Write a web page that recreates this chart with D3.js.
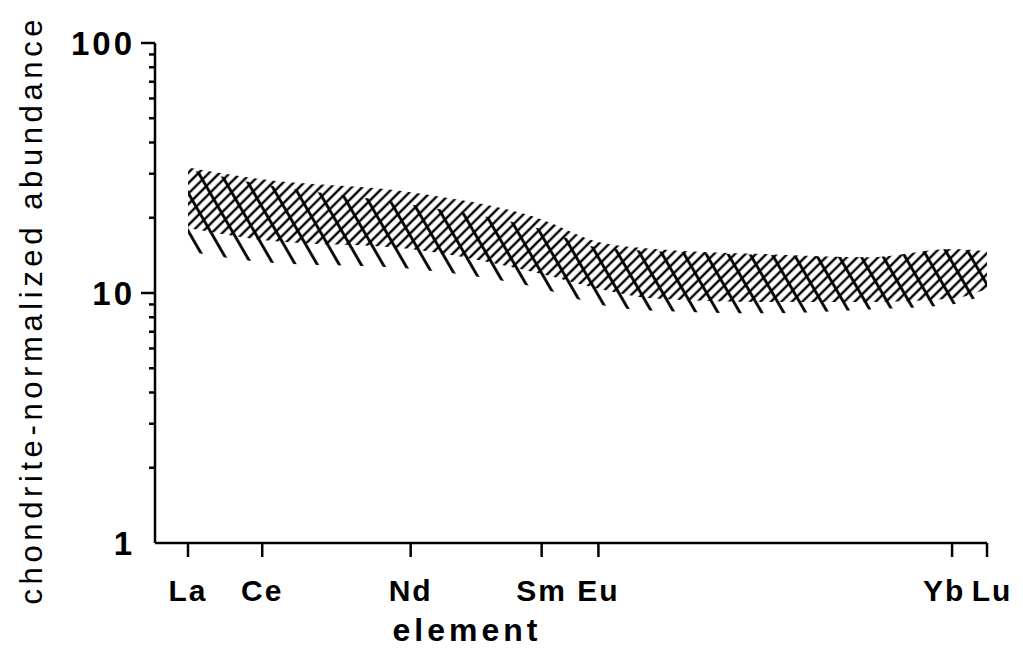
<!DOCTYPE html>
<html>
<head>
<meta charset="utf-8">
<script src="https://cdn.jsdelivr.net/npm/d3@7"></script>
<style>
  body { margin: 0; background: #fff; }
  svg text { font-family: "Liberation Sans", Arial, sans-serif; fill: #000; }
</style>
</head>
<body>
<div id="chart"></div>
<script>
// elements placed by ionic radius (Angstrom)
var elements    = ["La", "Ce", "Nd", "Sm", "Eu", "Gd", "Dy", "Er", "Yb", "Lu"];
var ionicRadius = [1.160, 1.143, 1.109, 1.079, 1.066, 1.053, 1.027, 1.004, 0.985, 0.977];
var tickElements = ["La", "Ce", "Nd", "Sm", "Eu", "Yb", "Lu"];

// band with "/" hatching
var bandA_hi = [31.8, 28.5, 25.3, 19.7, 16.0, 15.0, 14.3, 13.9, 15.0, 14.7];
var bandA_lo = [18.2, 16.3, 15.0, 11.9, 10.4, 9.5, 9.2, 9.2, 9.5, 10.4];
// band with "\" hatching
var bandB_hi = [31.2, 27.2, 22.6, 18.0, 15.2, 14.7, 14.2, 13.9, 15.0, 14.3];
var bandB_lo = [14.7, 13.3, 12.5, 10.4, 9.0, 8.5, 8.3, 8.6, 9.0, 9.9];

var yMajor = [1, 10, 100];
var yMinor = [2, 3, 4, 5, 6, 7, 8, 9, 20, 30, 40, 50, 60, 70, 80, 90];

var largeur = 1023, hauteur = 656;

var svg = d3.select("#chart").append("svg")
    .attr("width", largeur)
    .attr("height", hauteur);

var x = d3.scaleLinear().domain([1.160, 0.977]).range([188, 987]);
var y = d3.scaleLog().domain([1, 100]).range([543, 43]);

// hatch patterns
var defs = svg.append("defs");
function hatch(id, d, angle, sw) {
  defs.append("pattern")
      .attr("id", id)
      .attr("patternUnits", "userSpaceOnUse")
      .attr("width", d).attr("height", d)
      .attr("patternTransform", "rotate(" + angle + ")")
    .append("line")
      .attr("x1", d / 2).attr("y1", 0)
      .attr("x2", d / 2).attr("y2", d)
      .attr("stroke", "#000")
      .attr("stroke-width", sw);
}
hatch("fwd", 7.4, 45, 2.4);
hatch("back", 19, -30, 2.8);

function band(hi, lo) {
  var pts = elements.map(function(e, i) { return {r: ionicRadius[i], hi: hi[i], lo: lo[i]}; });
  return d3.area()
      .x(function(d) { return x(d.r); })
      .y0(function(d) { return y(d.lo); })
      .y1(function(d) { return y(d.hi); })
      .curve(d3.curveMonotoneX)(pts);
}

svg.append("path").attr("d", band(bandA_hi, bandA_lo)).attr("fill", "url(#fwd)");
svg.append("path").attr("d", band(bandB_hi, bandB_lo)).attr("fill", "url(#back)");

// y axis
var axisX = 155;
var g = svg.append("g").attr("stroke", "#000").attr("stroke-width", 2.5);
g.append("line").attr("x1", axisX).attr("x2", axisX).attr("y1", y(100)).attr("y2", y(1));
g.selectAll(".maj").data(yMajor.slice(1)).enter().append("line")
    .attr("x1", axisX - 14).attr("x2", axisX)
    .attr("y1", function(d) { return y(d); }).attr("y2", function(d) { return y(d); });
g.selectAll(".min").data(yMinor).enter().append("line")
    .attr("x1", axisX - 6).attr("x2", axisX)
    .attr("y1", function(d) { return y(d); }).attr("y2", function(d) { return y(d); });

svg.selectAll(".ylab").data(yMajor).enter().append("text")
    .attr("x", 135)
    .attr("y", function(d) { return y(d) + 12; })
    .attr("text-anchor", "end")
    .attr("font-size", 33)
    .attr("font-weight", "bold")
    .attr("letter-spacing", 3)
    .text(function(d) { return d; });

// x axis
var axisY = 543;
g.append("line").attr("x1", axisX).attr("x2", x(0.977)).attr("y1", axisY).attr("y2", axisY);
g.selectAll(".xt").data(tickElements).enter().append("line")
    .attr("x1", function(d) { return x(ionicRadius[elements.indexOf(d)]); })
    .attr("x2", function(d) { return x(ionicRadius[elements.indexOf(d)]); })
    .attr("y1", axisY).attr("y2", axisY + 14);

svg.selectAll(".xlab").data(tickElements).enter().append("text")
    .attr("x", function(d) { return x(ionicRadius[elements.indexOf(d)]) + (d === "Lu" ? 5 : (d === "Yb" ? -8 : 0)); })
    .attr("y", 601)
    .attr("text-anchor", "middle")
    .attr("font-size", 30)
    .attr("font-weight", "bold")
    .attr("letter-spacing", 2)
    .text(function(d) { return d; });

svg.append("text")
    .attr("x", 467).attr("y", 641)
    .attr("text-anchor", "middle")
    .attr("font-size", 32)
    .attr("font-weight", "bold")
    .attr("letter-spacing", 4)
    .text("element");

svg.append("text")
    .attr("transform", "translate(42,312) rotate(-90)")
    .attr("text-anchor", "middle")
    .attr("font-size", 31)
    .attr("textLength", 585)
    .attr("lengthAdjust", "spacing")
    .text("chondrite-normalized abundance");
</script>
</body>
</html>
